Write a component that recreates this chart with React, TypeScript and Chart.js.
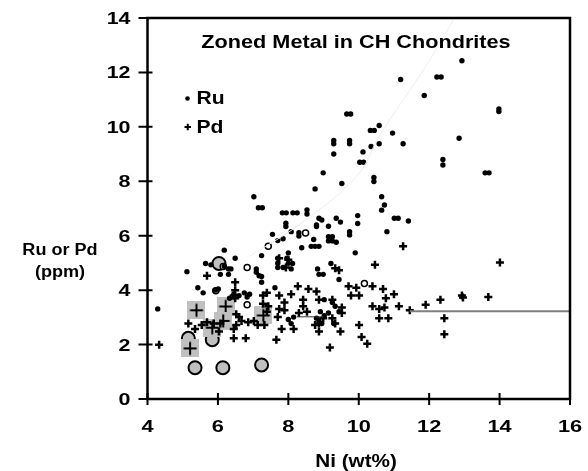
import React, { useEffect, useRef } from "react";
import { Chart, registerables } from "chart.js";

Chart.register(...registerables);

const X_TICKS = [4, 6, 8, 10, 12, 14, 16];
const Y_TICKS = [0, 2, 4, 6, 8, 10, 12, 14];
const TITLE = "Zoned Metal in CH Chondrites";
const X_TITLE = "Ni (wt%)";
const Y_TITLE = ["Ru or Pd", "(ppm)"];
const LEGEND = ["Ru", "Pd"];

// Ru (black dots): [Ni wt%, ppm]
const ruPoints = [
  [12.93, 12.43], [12.22, 11.83], [12.34, 11.83], [11.19, 11.74], [11.86, 11.15], [13.98, 10.66], [13.98, 10.56],
  [9.66, 10.47], [9.77, 10.47], [10.33, 9.87], [10.44, 9.87], [10.58, 10.05], [10.96, 9.77], [11.26, 9.38],
  [12.85, 9.58], [9.29, 9.5], [9.29, 9.38], [9.74, 9.5], [9.74, 9.38], [9.29, 9.0], [10.12, 9.08], [10.35, 9.28],
  [10.58, 9.38], [12.39, 8.8], [12.39, 8.6], [10.03, 8.7], [10.14, 8.7], [13.59, 8.31], [13.7, 8.31], [8.99, 8.31],
  [9.52, 7.92], [10.43, 8.14], [10.43, 7.99], [8.76, 7.72], [7.02, 7.43], [7.15, 7.03], [7.26, 7.03], [10.65, 7.43],
  [10.73, 7.13], [10.65, 6.94], [7.83, 6.84], [7.94, 6.84], [8.13, 6.84], [8.25, 6.84], [8.53, 6.95], [8.53, 6.8],
  [9.97, 6.74], [11.01, 6.64], [11.12, 6.64], [11.41, 6.54], [7.93, 6.46], [7.93, 6.34], [8.87, 6.64], [8.95, 6.58],
  [8.8, 6.4], [8.8, 6.34], [9.36, 6.64], [9.48, 6.5], [9.14, 6.35], [9.97, 6.45], [9.74, 6.15], [9.74, 6.03],
  [10.8, 6.15], [8.08, 6.15], [7.55, 6.05], [8.3, 6.11], [8.3, 5.99], [8.72, 5.86], [7.7, 5.82], [7.85, 5.89],
  [9.14, 5.96], [9.25, 5.96], [9.14, 5.81], [9.25, 5.81], [9.36, 5.76], [8.65, 5.61], [8.76, 5.61], [8.87, 5.61],
  [8.38, 5.56], [9.9, 5.37], [8.0, 5.37], [6.18, 5.47], [7.24, 5.27], [6.49, 5.17], [5.65, 4.98], [5.8, 4.93],
  [6.18, 4.88], [6.3, 4.78], [5.12, 4.68], [6.07, 4.58], [6.3, 4.58], [6.37, 4.78], [7.09, 4.78], [7.09, 4.66],
  [7.17, 4.53], [7.24, 4.5], [7.24, 4.29], [8.83, 4.78], [8.87, 4.58], [8.99, 4.58], [9.21, 4.98], [9.44, 4.39],
  [7.62, 4.09], [5.43, 4.09], [5.58, 3.9], [5.92, 4.0], [6.01, 4.04], [4.29, 3.31], [6.75, 3.9], [6.9, 3.85],
  [6.6, 3.8], [6.83, 3.75], [6.33, 3.7], [6.45, 3.85], [7.7, 5.17], [7.7, 4.99], [7.7, 4.83], [7.85, 4.83],
  [8.0, 4.99], [8.08, 4.78], [8.12, 4.98], [7.96, 5.17], [9.02, 3.65], [9.25, 3.55], [9.33, 3.41], [9.14, 3.16],
  [9.44, 3.21], [8.91, 3.21], [8.8, 2.97], [9.02, 3.06], [8.87, 2.87], [9.29, 2.77], [8.95, 2.77], [8.0, 2.92],
  [8.15, 3.01], [8.08, 2.77],
];

// Pd (black crosses)
const pdPoints = [
  [14.01, 5.02], [11.26, 5.61], [10.46, 4.93], [9.44, 4.73], [9.33, 4.8], [5.69, 4.53], [8.27, 4.14], [8.57, 4.04],
  [8.8, 3.95], [9.71, 4.14], [9.93, 4.09], [9.78, 3.8], [10.01, 3.8], [10.39, 4.14], [10.69, 4.04], [10.77, 3.7],
  [11.0, 3.85], [10.73, 3.36], [10.39, 3.41], [10.58, 3.31], [10.58, 2.97], [10.84, 2.97], [11.14, 3.41],
  [11.45, 3.26], [11.9, 3.46], [12.32, 3.65], [12.43, 2.97], [12.43, 2.38], [12.93, 3.8], [12.96, 3.73],
  [13.68, 3.75], [4.33, 1.99], [5.16, 2.77], [5.35, 2.57], [5.69, 2.82], [5.88, 2.77], [6.07, 2.77], [6.03, 2.48],
  [6.45, 2.23], [6.79, 2.23], [6.52, 2.72], [7.66, 2.18], [7.81, 2.57], [8.15, 2.57], [8.87, 2.48], [8.87, 2.77],
  [8.99, 2.97], [9.18, 1.89], [9.48, 2.48], [10.01, 2.72], [10.08, 2.28], [10.24, 2.03], [6.49, 4.29], [6.49, 4.0],
  [6.45, 3.8], [7.28, 3.8], [7.39, 3.9], [7.28, 3.5], [7.43, 3.41], [7.39, 3.21], [7.32, 2.72], [7.74, 3.8],
  [7.74, 3.31], [7.89, 3.55], [7.89, 3.26], [7.7, 3.01], [8.08, 3.85], [8.42, 3.41], [8.53, 3.21], [8.3, 3.16],
  [8.42, 3.65], [6.6, 3.01], [6.67, 2.87], [6.45, 2.57], [6.86, 2.82], [7.02, 2.87], [7.13, 2.72], [7.74, 5.17],
  [8.0, 5.12], [7.93, 4.83], [6.49, 3.7], [8.87, 3.65], [9.25, 3.65], [9.52, 3.36], [9.52, 3.16], [8.76, 2.72],
  [9.25, 2.97], [9.33, 2.77], [5.54, 2.72], [6.52, 3.11],
];

// small open circles
const openPoints = [[8.49, 6.1], [7.43, 5.61], [6.83, 4.83], [10.16, 4.24], [6.83, 3.46], [5.94, 3.98], [6.15, 4.87]];
// highlighted Ru (grey circles)
const greyRu = [[6.03, 4.98], [5.16, 2.23], [5.84, 2.18], [5.35, 1.15], [6.14, 1.15], [7.24, 1.25]];
// highlighted Pd (grey squares with cross)
const greyPd = [[5.39, 3.26], [6.22, 3.4], [6.15, 2.87], [5.84, 2.62], [7.29, 3.07], [5.21, 1.86]];
// lines
const greyLine = [[11.45, 3.22], [16, 3.22]];
const blackLine = [[8.24, 3.02], [8.99, 3.02]];
const faintCurve = [[6.9, 5.25], [8.3, 6.4], [9.95, 8.2], [10.6, 9.7], [11.94, 12.3], [12.69, 13.93]];

const FONT = '"Liberation Sans", Arial, Helvetica, sans-serif';
const toXY = (arr: number[][]) => arr.map(([x, y]) => ({ x, y }));

function drawStretched(ctx: CanvasRenderingContext2D, text: string, x: number, y: number, size: number, sx: number, align: string) {
  ctx.save();
  ctx.font = `bold ${size}px ${FONT}`;
  ctx.textBaseline = "alphabetic";
  ctx.textAlign = "left";
  const w = ctx.measureText(text).width * sx;
  const left = align === "center" ? x - w / 2 : align === "right" ? x - w : x;
  ctx.translate(left, y);
  ctx.scale(sx, 1);
  ctx.fillStyle = "#000";
  ctx.fillText(text, 0, 0);
  ctx.restore();
}

function makeSquareCross() {
  const c = document.createElement("canvas");
  c.width = 18;
  c.height = 18;
  const g = c.getContext("2d")!;
  g.fillStyle = "#c0c0c0";
  g.fillRect(0, 0, 18, 18);
  g.strokeStyle = "#000";
  g.lineWidth = 2;
  g.beginPath();
  g.moveTo(9, 2.5);
  g.lineTo(9, 15.5);
  g.moveTo(2.5, 9);
  g.lineTo(15.5, 9);
  g.stroke();
  return c;
}

const framePlugin = {
  id: "framePlugin",
  afterDraw(chart: any) {
    const { ctx, chartArea, scales } = chart;
    const { left, right, top, bottom } = chartArea;
    ctx.save();
    ctx.strokeStyle = "#000";
    ctx.lineWidth = 2.5;
    ctx.strokeRect(left, top, right - left, bottom - top);
    ctx.lineWidth = 2;
    ctx.beginPath();
    for (const v of Y_TICKS) {
      const py = scales.y.getPixelForValue(v);
      ctx.moveTo(left - 9, py);
      ctx.lineTo(left + 5, py);
    }
    for (const v of X_TICKS) {
      const px = scales.x.getPixelForValue(v);
      ctx.moveTo(px, bottom - 6);
      ctx.lineTo(px, bottom + 6);
    }
    ctx.stroke();
    ctx.restore();

    for (const v of Y_TICKS) {
      const py = scales.y.getPixelForValue(v);
      drawStretched(ctx, String(v), 130.5, py + 6, 16.5, 1.3, "right");
    }
    for (const v of X_TICKS) {
      const px = scales.x.getPixelForValue(v);
      drawStretched(ctx, String(v), px, 431.5, 17, 1.28, "center");
    }
    drawStretched(ctx, TITLE, 356, 47.5, 19, 1.14, "center");
    drawStretched(ctx, X_TITLE, 356, 466.5, 18, 1.15, "center");
    drawStretched(ctx, Y_TITLE[0], 60, 255, 16, 1.13, "center");
    drawStretched(ctx, Y_TITLE[1], 60, 277, 16, 1.13, "center");

    // legend
    ctx.save();
    ctx.fillStyle = "#000";
    ctx.beginPath();
    ctx.arc(187.5, 98.5, 2.3, 0, Math.PI * 2);
    ctx.fill();
    ctx.strokeStyle = "#000";
    ctx.lineWidth = 2;
    ctx.beginPath();
    ctx.moveTo(184.5, 127);
    ctx.lineTo(191, 127);
    ctx.moveTo(187.75, 123.75);
    ctx.lineTo(187.75, 130.25);
    ctx.stroke();
    ctx.restore();
    drawStretched(ctx, LEGEND[0], 196.5, 104, 18.5, 1.14, "left");
    drawStretched(ctx, LEGEND[1], 196.5, 132.5, 18.5, 1.14, "left");
  },
};

export default function App() {
  const ref = useRef<HTMLCanvasElement>(null);
  useEffect(() => {
    if (!ref.current) return;
    const squareImg = makeSquareCross();
    const chart = new Chart(ref.current, {
      type: "scatter",
      data: {
        datasets: [
          {
            label: "curve",
            data: toXY(faintCurve),
            showLine: true,
            borderColor: "#ededed",
            borderWidth: 1,
            pointRadius: 0,
            tension: 0.4,
          },
          {
            label: "grey line",
            data: toXY(greyLine),
            showLine: true,
            borderColor: "#7f7f7f",
            borderWidth: 2,
            pointRadius: 0,
          },
          {
            label: "black line",
            data: toXY(blackLine),
            showLine: true,
            borderColor: "#333",
            borderWidth: 1,
            pointRadius: 0,
          },
          {
            label: "Pd",
            data: toXY(pdPoints),
            pointStyle: "cross",
            pointRadius: 4,
            borderColor: "#000",
            borderWidth: 2.5,
          },
          {
            label: "Ru",
            data: toXY(ruPoints),
            pointStyle: "circle",
            pointRadius: 2.7,
            backgroundColor: "#000",
            borderWidth: 0,
          },
          {
            label: "open",
            data: toXY(openPoints),
            pointStyle: "circle",
            pointRadius: 3,
            backgroundColor: "#fff",
            borderColor: "#000",
            borderWidth: 1.5,
          },
          {
            label: "Pd highlighted",
            data: toXY(greyPd),
            pointStyle: squareImg as any,
          },
          {
            label: "Ru highlighted",
            data: toXY(greyRu),
            pointStyle: "circle",
            pointRadius: 6.5,
            backgroundColor: "#c0c0c0",
            borderColor: "#000",
            borderWidth: 2,
          },
        ],
      },
      options: {
        animation: false,
        responsive: false,
        devicePixelRatio: 1,
        events: [],
        layout: { padding: { left: 0, top: 18, right: 18, bottom: 0 } },
        plugins: { legend: { display: false }, tooltip: { enabled: false }, title: { display: false } },
        scales: {
          x: {
            type: "linear",
            min: 4,
            max: 16,
            grid: { display: false, drawTicks: false },
            border: { display: false },
            ticks: { display: false, stepSize: 2 },
            afterFit: (s: any) => {
              s.height = 72;
            },
          },
          y: {
            type: "linear",
            min: 0,
            max: 14,
            grid: { display: false, drawTicks: false },
            border: { display: false },
            ticks: { display: false, stepSize: 2 },
            afterFit: (s: any) => {
              s.width = 147.5;
            },
          },
        },
      },
      plugins: [framePlugin],
    });
    return () => chart.destroy();
  }, []);
  return (
    <div style={{ position: "absolute", left: 0, top: 0, width: 588, height: 471, background: "#fff" }}>
      <canvas ref={ref} width={588} height={471} style={{ display: "block", width: 588, height: 471 }} />
    </div>
  );
}
